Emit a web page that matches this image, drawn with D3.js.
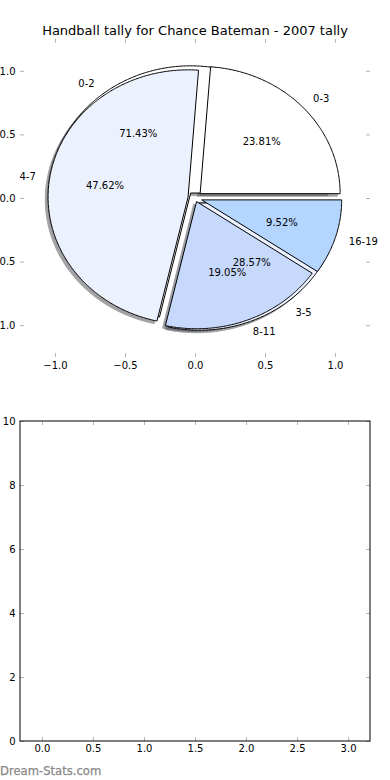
<!DOCTYPE html>
<html><head><meta charset="utf-8">
<script src="https://cdn.jsdelivr.net/npm/d3@7"></script>
<style>
body{margin:0;background:#fff}
svg{display:block}
text{font-family:"DejaVu Sans",sans-serif}
</style>
</head><body>
<svg id="c" width="390" height="780"></svg>
<script>
// ---------- data ----------
const title = "Handball tally for Chance Bateman - 2007 tally";
const pieALabels = ["0-2", "3-5"];
const pieAValues = [15, 6];
const pieBLabels = ["0-3", "4-7", "8-11", "16-19"];
const pieBValues = [5, 10, 4, 2];
const pieTicks = [-1.0, -0.5, 0.0, 0.5, 1.0];
const lowerXTicks = [0, 0.5, 1, 1.5, 2, 2.5, 3];
const lowerYTicks = [0, 2, 4, 6, 8, 10];
const watermark = "Dream-Stats.com";

// ---------- style ----------
const pieAColors = ["#ffffff", "#ebf1fd"];
const pieBColors = ["#ffffff", "#ebf1fd", "#c6d9fc", "#b4d5fe"];
const pieAExplode = [0.05, 0.05];
const pieBExplode = [0.05, 0.05, 0.03, 0.05];
const tickColor = "#b4b4b4";

const svg = d3.select("#c");

// ---------- top (pie) axes ----------
const x = d3.scaleLinear([-1.25, 1.25], [20, 370]);
const y = d3.scaleLinear([-1.25, 1.25], [357, 39]);

const line = d3.line().x(d => x(d[0])).y(d => y(d[1]));
function wedgePts(cx, cy, t1, t2) {
  const pts = [[cx, cy]];
  const n = Math.max(8, Math.ceil((t2 - t1) / 0.01));
  for (let i = 0; i <= n; i++) {
    const t = t1 + (t2 - t1) * i / n;
    pts.push([cx + Math.cos(t), cy + Math.sin(t)]);
  }
  return pts;
}

function layoutPie(labels, values, colors, explode) {
  const arcs = d3.pie().sort(null).startAngle(0).endAngle(2 * Math.PI)(values);
  const total = d3.sum(values);
  return arcs.map((a, i) => {
    const tm = (a.startAngle + a.endAngle) / 2;
    const cx = explode[i] * Math.cos(tm), cy = explode[i] * Math.sin(tm);
    return {label: labels[i], value: values[i], pct: 100 * values[i] / total,
      color: colors[i], t1: a.startAngle, t2: a.endAngle, tm, cx, cy};
  });
}
const pieA = layoutPie(pieALabels, pieAValues, pieAColors, pieAExplode);
const pieB = layoutPie(pieBLabels, pieBValues, pieBColors, pieBExplode);
const all = pieA.concat(pieB);

const gPie = svg.append("g");
// shadows (below every wedge)
gPie.selectAll("path.shadow").data(all).join("path")
  .attr("class", "shadow")
  .attr("d", d => line(wedgePts(d.cx - 0.02, d.cy - 0.02, d.t1, d.t2)) + "Z")
  .attr("fill", d => { const c = d3.rgb(d.color); return d3.rgb(c.r * 0.3, c.g * 0.3, c.b * 0.3); })
  .attr("stroke", d => { const c = d3.rgb(d.color); return d3.rgb(c.r * 0.3, c.g * 0.3, c.b * 0.3); })
  .attr("stroke-width", 1)
  .attr("opacity", 0.5);
// wedges
gPie.selectAll("path.wedge").data(all).join("path")
  .attr("class", "wedge")
  .attr("d", d => line(wedgePts(d.cx, d.cy, d.t1, d.t2)) + "Z")
  .attr("fill", d => d.color)
  .attr("stroke", "#000")
  .attr("stroke-width", 1)
  .attr("stroke-linejoin", "miter");
// labels
gPie.selectAll("text.lab").data(all).join("text")
  .attr("class", "lab")
  .attr("x", d => x(d.cx + 1.1 * Math.cos(d.tm)))
  .attr("y", d => y(d.cy + 1.1 * Math.sin(d.tm)))
  .attr("dy", "0.36em")
  .attr("text-anchor", d => (d.cx + 1.1 * Math.cos(d.tm)) > 0 ? "start" : "end")
  .attr("font-size", 10)
  .text(d => d.label);
gPie.selectAll("text.pct").data(all).join("text")
  .attr("class", "pct")
  .attr("x", d => x(d.cx + 0.6 * Math.cos(d.tm)))
  .attr("y", d => y(d.cy + 0.6 * Math.sin(d.tm)))
  .attr("dy", "0.36em")
  .attr("text-anchor", "middle")
  .attr("font-size", 10)
  .text(d => d3.format(".2f")(d.pct) + "%");

function styleAxis(g) {
  g.select(".domain").remove();
  g.attr("font-family", "DejaVu Sans, sans-serif").attr("font-size", 10);
  g.selectAll(".tick line").attr("stroke", tickColor).attr("stroke-width", 1);
  g.selectAll(".tick text").attr("fill", "#000");
}
const fmt1 = d3.format(".1f");
svg.append("g").attr("transform", `translate(0,${y.range()[0]})`)
  .call(d3.axisBottom(x).tickValues(pieTicks).tickSize(-4).tickPadding(4.6).tickFormat(fmt1)).call(styleAxis);
svg.append("g").attr("transform", `translate(0,${y.range()[1]})`)
  .call(d3.axisTop(x).tickValues(pieTicks).tickSize(-4).tickFormat("")).call(styleAxis);
svg.append("g").attr("transform", `translate(${x.range()[0]},0)`)
  .call(d3.axisLeft(y).tickValues(pieTicks).tickSize(-4).tickPadding(4.5).tickFormat(fmt1)).call(styleAxis);
svg.append("g").attr("transform", `translate(${x.range()[1]},0)`)
  .call(d3.axisRight(y).tickValues(pieTicks).tickSize(-4).tickFormat("")).call(styleAxis);

svg.append("text").attr("x", (x.range()[0] + x.range()[1]) / 2).attr("y", 34.5)
  .attr("text-anchor", "middle").attr("font-size", 13).text(title);

// ---------- bottom (empty) axes ----------
const xb = d3.scaleLinear([-0.215, 3.215], [20, 370]);
const yb = d3.scaleLinear([0, 10], [741, 421]);
svg.append("g").attr("transform", `translate(0,${yb.range()[0]})`)
  .call(d3.axisBottom(xb).tickValues(lowerXTicks).tickSize(-4).tickPadding(4).tickFormat(fmt1)).call(styleAxis);
svg.append("g").attr("transform", `translate(0,${yb.range()[1]})`)
  .call(d3.axisTop(xb).tickValues(lowerXTicks).tickSize(-4).tickFormat("")).call(styleAxis);
svg.append("g").attr("transform", `translate(${xb.range()[0]},0)`)
  .call(d3.axisLeft(yb).tickValues(lowerYTicks).tickSize(-4).tickPadding(4.5).tickFormat(d3.format("d"))).call(styleAxis);
svg.append("g").attr("transform", `translate(${xb.range()[1]},0)`)
  .call(d3.axisRight(yb).tickValues(lowerYTicks).tickSize(-4).tickFormat("")).call(styleAxis);
svg.append("rect")
  .attr("x", xb.range()[0]).attr("y", yb.range()[1])
  .attr("width", xb.range()[1] - xb.range()[0]).attr("height", yb.range()[0] - yb.range()[1])
  .attr("fill", "none").attr("stroke", "#000").attr("stroke-width", 1);

// watermark
svg.append("text").attr("x", 0).attr("y", 775).attr("font-size", 11.6)
  .attr("fill", "#888888").attr("stroke", "#888888").attr("stroke-width", 0.25).text(watermark);
</script>
</body></html>
